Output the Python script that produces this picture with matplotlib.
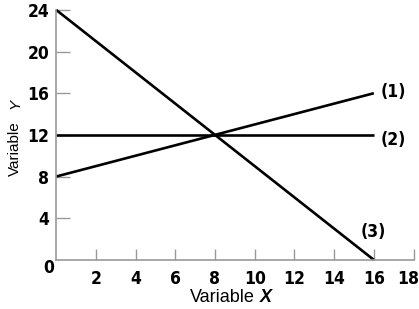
import matplotlib
matplotlib.use("Agg")
import matplotlib.pyplot as plt
from matplotlib import font_manager

# data
x_pts = [0, 16]
line1 = [8, 16]
line2 = [12, 12]
line3 = [24, 0]
line_names = ["(1)", "(2)", "(3)"]
label_pos = [(16.35, 16.1), (16.35, 11.5), (15.95, 2.7)]
xticks = [2, 4, 6, 8, 10, 12, 14, 16, 18]
yticks = [4, 8, 12, 16, 20, 24]

# condensed bold face for the numbers if one is installed
cond = [f for f in font_manager.fontManager.ttflist
        if ("Narrow" in f.name or "Condensed" in f.fname) and f.weight in ("bold", 700)
        and f.style == "normal"]
if cond:
    tick_font = dict(fontproperties=font_manager.FontProperties(fname=cond[0].fname, size=12.5))
else:
    tick_font = dict(family=["Liberation Sans", "DejaVu Sans"], weight="bold", size=11)

fig = plt.figure(figsize=(4.19, 3.09), dpi=100)
ax = fig.add_axes([0.134, 0.159, 0.853, 0.809])

for y in (line1, line2, line3):
    ax.plot(x_pts, y, color="black", lw=1.9, solid_capstyle="butt", clip_on=False)

for name, (lx, ly) in zip(line_names, label_pos):
    ax.text(lx, ly, name, ha="left" if name != "(3)" else "center", va="center", **tick_font)

ax.set_xlim(0, 18)
ax.set_ylim(0, 24)
ax.set_xticks(xticks)
ax.set_yticks(yticks)
# last x label is drawn by hand a bit inside the edge, as in the original
xlabels = [str(t) for t in xticks]
ax.set_xticklabels(xlabels[:-1] + [""], **tick_font)
ax.set_yticklabels([str(t) for t in yticks], **tick_font)
ax.tick_params(axis="x", direction="in", length=8, width=1, color="#999999", pad=7)
ax.tick_params(axis="y", direction="in", length=10, width=1, color="#999999", pad=5)
ax.annotate(xlabels[-1], xy=(xticks[-1], 0), xytext=(-4, -7), textcoords="offset points",
            ha="center", va="top", annotation_clip=False, **tick_font)
ax.text(-0.4, -0.77, "0", ha="center", va="center", **tick_font)

for s in ("top", "right"):
    ax.spines[s].set_visible(False)
for s in ("left", "bottom"):
    ax.spines[s].set_color("#999999")
    ax.spines[s].set_linewidth(1.2)

lab = ["Liberation Sans", "DejaVu Sans"]
ax.text(0.464, -0.152, "Variable", transform=ax.transAxes, ha="center", va="center",
        family=lab, size=13)
ax.text(0.587, -0.152, "X", transform=ax.transAxes, ha="center", va="center",
        family=lab, size=13, weight="bold", style="italic")
ax.text(-0.115, 0.446, "Variable", transform=ax.transAxes, ha="center", va="center",
        family=lab, size=11, rotation=90)
ax.text(-0.115, 0.624, "Y", transform=ax.transAxes, ha="center", va="center",
        family=lab, size=11, style="italic", rotation=90)

fig.savefig("out.png", dpi=100)
